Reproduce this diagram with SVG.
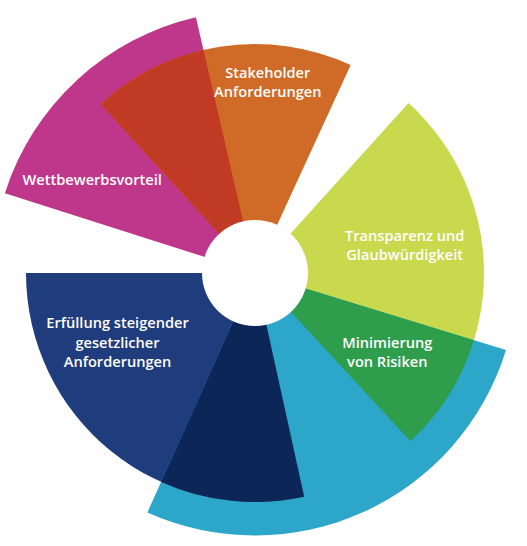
<svg xmlns="http://www.w3.org/2000/svg" width="527" height="546" viewBox="0 0 527 546">
<style>
.lbl{font-family:"Open Sans","Noto Sans","Liberation Sans",sans-serif;font-weight:600;font-size:14.6px;fill:#ffffff;text-anchor:middle}
</style>
<rect width="527" height="546" fill="#ffffff"/>
<g id="sectors">
<g id="wettbewerbsvorteil">
<path d="M255,273 L4.9,193.2 A262.5,262.5 0 0 1 195.9,17.2 Z" fill="#BF378B"/>
</g>
<g id="stakeholder">
<path d="M255,273 L100.5,104 A229,229 0 0 1 350.7,65 Z" fill="#CF6A27"/>
<path d="M255,273 L100.5,104 A229,229 0 0 1 203.5,49.9 Z" fill="#C03A24"/>
</g>
<g id="transparenz">
<path d="M255,273 L408.5,103.1 A229,229 0 0 1 410.4,441.2 Z" fill="#C8D94E"/>
</g>
<g id="erfuellung">
<path d="M255,273 L304.2,496.7 A229,229 0 0 1 26,273 Z" fill="#1F3C7D"/>
</g>
<g id="minimierung">
<path d="M255,273 L506,350 A262.5,262.5 0 0 1 147.4,512.4 Z" fill="#2CA6C9"/>
<path d="M255,273 L473.9,340.2 A229,229 0 0 1 410.4,441.2 Z" fill="#2F9E4C"/>
<path d="M255,273 L304.2,496.7 A229,229 0 0 1 161.1,481.9 Z" fill="#0B2657"/>
</g>
<circle id="hub" cx="255" cy="273" r="53" fill="#ffffff"/>
</g>
<g id="labels">
<text class="lbl" x="92.2" y="184.5">Wettbewerbsvorteil</text>
<text class="lbl" x="267.8" y="77.5">Stakeholder</text>
<text class="lbl" x="267.8" y="97">Anforderungen</text>
<text class="lbl" x="404.7" y="241">Transparenz und</text>
<text class="lbl" x="404.7" y="260.3">Glaubwürdigkeit</text>
<text class="lbl" x="117.5" y="328.3">Erfüllung steigender</text>
<text class="lbl" x="117.5" y="347.8">gesetzlicher</text>
<text class="lbl" x="117.5" y="367.3">Anforderungen</text>
<text class="lbl" x="387.3" y="348.3">Minimierung</text>
<text class="lbl" x="387.3" y="367.3">von Risiken</text>
</g>
</svg>
